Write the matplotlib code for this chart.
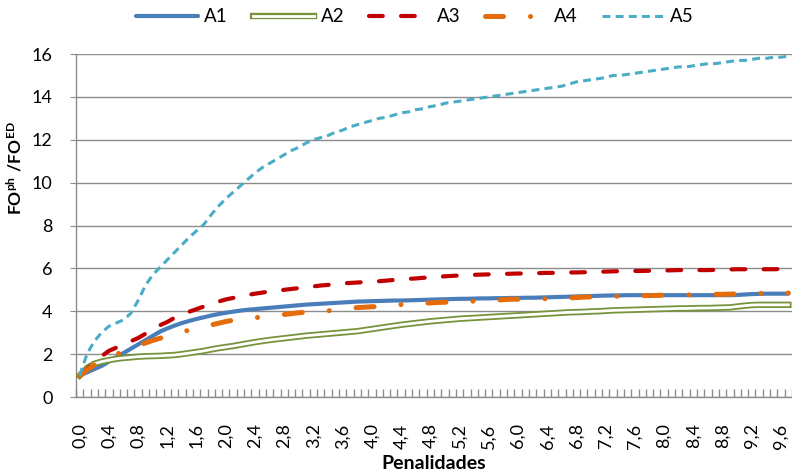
import matplotlib
matplotlib.use("Agg")
import matplotlib.pyplot as plt
import matplotlib.patheffects as pe

plt.rcParams["font.family"] = ["Lato", "DejaVu Sans"]
plt.rcParams["mathtext.fontset"] = "custom"
plt.rcParams["mathtext.rm"] = "Lato"
plt.rcParams["mathtext.bf"] = "Lato:bold"

# Penalty values on the category axis (0,0 ... 9,7)
penalidades = [k / 10 for k in range(98)]

a1 = [1.00, 1.15, 1.30, 1.45, 1.65, 1.85, 2.05, 2.25, 2.45, 2.65,
      2.85, 3.05, 3.20, 3.33, 3.45, 3.55, 3.64, 3.72, 3.80, 3.87,
      3.93, 3.98, 4.03, 4.07, 4.10, 4.13, 4.16, 4.19, 4.22, 4.25,
      4.28, 4.31, 4.33, 4.35, 4.37, 4.39, 4.41, 4.43, 4.45, 4.46,
      4.47, 4.48, 4.49, 4.50, 4.50, 4.51, 4.52, 4.53, 4.54, 4.55,
      4.56, 4.57, 4.58, 4.58, 4.59, 4.60, 4.60, 4.61, 4.61, 4.62,
      4.62, 4.63, 4.63, 4.64, 4.65, 4.66, 4.67, 4.68, 4.69, 4.70,
      4.71, 4.72, 4.73, 4.74, 4.74, 4.75, 4.75, 4.75, 4.75, 4.75,
      4.75, 4.75, 4.75, 4.75, 4.75, 4.75, 4.75, 4.75, 4.75, 4.75,
      4.76, 4.78, 4.80, 4.81, 4.82, 4.82, 4.82, 4.82]

a2 = [1.00, 1.35, 1.55, 1.65, 1.72, 1.78, 1.82, 1.85, 1.88, 1.90,
      1.91, 1.92, 1.94, 1.96, 2.00, 2.05, 2.10, 2.15, 2.22, 2.28,
      2.33, 2.38, 2.44, 2.50, 2.56, 2.61, 2.66, 2.70, 2.74, 2.78,
      2.82, 2.86, 2.89, 2.92, 2.95, 2.98, 3.01, 3.04, 3.07, 3.12,
      3.17, 3.22, 3.27, 3.32, 3.37, 3.41, 3.45, 3.49, 3.53, 3.56,
      3.59, 3.62, 3.65, 3.67, 3.69, 3.71, 3.73, 3.75, 3.77, 3.79,
      3.81, 3.83, 3.85, 3.87, 3.89, 3.91, 3.93, 3.95, 3.96, 3.97,
      3.99, 4.00, 4.02, 4.04, 4.05, 4.06, 4.07, 4.08, 4.09, 4.10,
      4.11, 4.12, 4.13, 4.13, 4.14, 4.15, 4.15, 4.16, 4.17, 4.18,
      4.22, 4.26, 4.29, 4.30, 4.30, 4.30, 4.30, 4.30]

a3 = [1.00, 1.30, 1.60, 1.90, 2.15, 2.30, 2.45, 2.60, 2.75, 2.95,
      3.15, 3.35, 3.50, 3.70, 3.85, 3.98, 4.10, 4.22, 4.35, 4.45,
      4.55, 4.62, 4.70, 4.76, 4.82, 4.87, 4.92, 4.96, 5.00, 5.04,
      5.08, 5.12, 5.16, 5.20, 5.23, 5.27, 5.30, 5.32, 5.34, 5.36,
      5.38, 5.40, 5.43, 5.46, 5.49, 5.51, 5.53, 5.56, 5.58, 5.61,
      5.63, 5.65, 5.67, 5.69, 5.70, 5.71, 5.72, 5.74, 5.74, 5.75,
      5.76, 5.76, 5.77, 5.78, 5.79, 5.79, 5.80, 5.81, 5.81, 5.82,
      5.83, 5.84, 5.85, 5.86, 5.87, 5.87, 5.88, 5.88, 5.89, 5.90,
      5.90, 5.91, 5.92, 5.92, 5.92, 5.92, 5.92, 5.93, 5.94, 5.95,
      5.96, 5.96, 5.96, 5.96, 5.96, 5.96, 5.97, 5.97]

a4 = [1.00, 1.25, 1.50, 1.70, 1.85, 2.00, 2.10, 2.25, 2.40, 2.52,
      2.64, 2.74, 2.84, 2.94, 3.03, 3.12, 3.20, 3.28, 3.36, 3.44,
      3.52, 3.58, 3.63, 3.67, 3.70, 3.73, 3.76, 3.80, 3.85, 3.89,
      3.93, 3.96, 3.98, 4.00, 4.02, 4.06, 4.10, 4.14, 4.17, 4.19,
      4.21, 4.22, 4.25, 4.28, 4.31, 4.34, 4.35, 4.37, 4.39, 4.41,
      4.42, 4.43, 4.45, 4.46, 4.47, 4.49, 4.50, 4.52, 4.54, 4.56,
      4.56, 4.57, 4.57, 4.58, 4.58, 4.59, 4.61, 4.62, 4.64, 4.66,
      4.67, 4.68, 4.69, 4.70, 4.70, 4.71, 4.72, 4.73, 4.73, 4.74,
      4.75, 4.75, 4.76, 4.76, 4.77, 4.77, 4.78, 4.79, 4.79, 4.80,
      4.81, 4.82, 4.83, 4.83, 4.84, 4.84, 4.85, 4.85]

a5 = [1.00, 2.00, 2.60, 3.00, 3.30, 3.45, 3.60, 3.90, 4.50, 5.20,
      5.70, 6.05, 6.40, 6.75, 7.10, 7.45, 7.75, 8.05, 8.50, 8.90,
      9.25, 9.55, 9.85, 10.15, 10.45, 10.70, 10.90, 11.10, 11.30, 11.50,
      11.65, 11.85, 12.00, 12.10, 12.20, 12.35, 12.45, 12.60, 12.70, 12.80,
      12.90, 13.00, 13.05, 13.15, 13.25, 13.30, 13.40, 13.45, 13.55, 13.60,
      13.70, 13.75, 13.80, 13.85, 13.90, 13.95, 14.00, 14.05, 14.10, 14.15,
      14.20, 14.25, 14.30, 14.35, 14.40, 14.45, 14.50, 14.60, 14.70, 14.75,
      14.80, 14.85, 14.90, 15.00, 15.00, 15.05, 15.10, 15.15, 15.20, 15.25,
      15.30, 15.35, 15.40, 15.40, 15.45, 15.50, 15.55, 15.55, 15.60, 15.65,
      15.70, 15.70, 15.75, 15.80, 15.80, 15.85, 15.85, 15.90]

series_names = ["A1", "A2", "A3", "A4", "A5"]
y_ticks = [0, 2, 4, 6, 8, 10, 12, 14, 16]

grid_gray = "#8c8c8c"

fig = plt.figure(figsize=(7.92, 4.73), dpi=100)
ax = fig.add_axes([76 / 792, 1 - 397 / 473, 1 - 76 / 792, (397 - 54) / 473])

x = list(range(len(penalidades)))

ax.plot(x, a1, color="#4a7ebb", lw=3.0, solid_capstyle="round",
        solid_joinstyle="round", label=series_names[0], zorder=3)

ax.plot(x, a2, color="white", lw=2.0, label=series_names[1], zorder=3,
        path_effects=[pe.Stroke(linewidth=4.6, foreground="#77933c"), pe.Normal()])

l3, = ax.plot(x, a3, color="#c00000", lw=3.0, label=series_names[2], zorder=3,
              dash_capstyle="round")
l3.set_dashes((3.3, 4.4))

l4, = ax.plot(x, a4, color="#e46c0a", lw=3.6, label=series_names[3], zorder=3,
              dash_capstyle="round")
l4.set_dashes((3.6, 5.4, 0.01, 5.4))

l5, = ax.plot(x, a5, color="#4bacc6", lw=2.2, label=series_names[4], zorder=3,
              dash_capstyle="butt")
l5.set_dashes((2.6, 1.7))

ax.set_xlim(-0.5, len(x) - 0.5)
ax.set_ylim(0, 16)

# y axis
ax.set_yticks(y_ticks)
ax.set_yticklabels([str(v) for v in y_ticks], fontsize=13)
ax.tick_params(axis="y", length=4, color=grid_gray, pad=13)
ax.yaxis.grid(True, color=grid_gray, lw=1.0)
ax.set_axisbelow(True)

# x axis: labels every 0,4, tick marks between categories
label_pos = x[::4]
ax.set_xticks(label_pos)
ax.set_xticklabels([f"{penalidades[i]:.1f}".replace(".", ",") for i in label_pos],
                   rotation=90, fontsize=13)
ax.tick_params(axis="x", length=0, pad=19)
ax.set_xticks([k - 0.5 for k in range(len(x) + 1)], minor=True)
ax.tick_params(axis="x", which="minor", direction="in", length=6,
               color=grid_gray, width=1.0)

for side in ("top", "right"):
    ax.spines[side].set_visible(False)
for side in ("left", "bottom"):
    ax.spines[side].set_color(grid_gray)
    ax.spines[side].set_linewidth(1.0)

fig.text(434 / 792, 1 - 463 / 473, "Penalidades", fontsize=14,
         fontweight="bold", ha="center", va="center")
fig.text(15 / 792, 1 - 168 / 473, r"$\mathbf{FO^{ph}\ /FO^{ED}}$",
         rotation=90, fontsize=12.5, ha="center", va="center")

fig.legend(loc="center", bbox_to_anchor=(415 / 792, 1 - 17 / 473), ncol=5,
           frameon=False, fontsize=13.5, handlelength=3.3, columnspacing=1.3,
           handletextpad=0.35)

fig.savefig("out.png", dpi=100)
